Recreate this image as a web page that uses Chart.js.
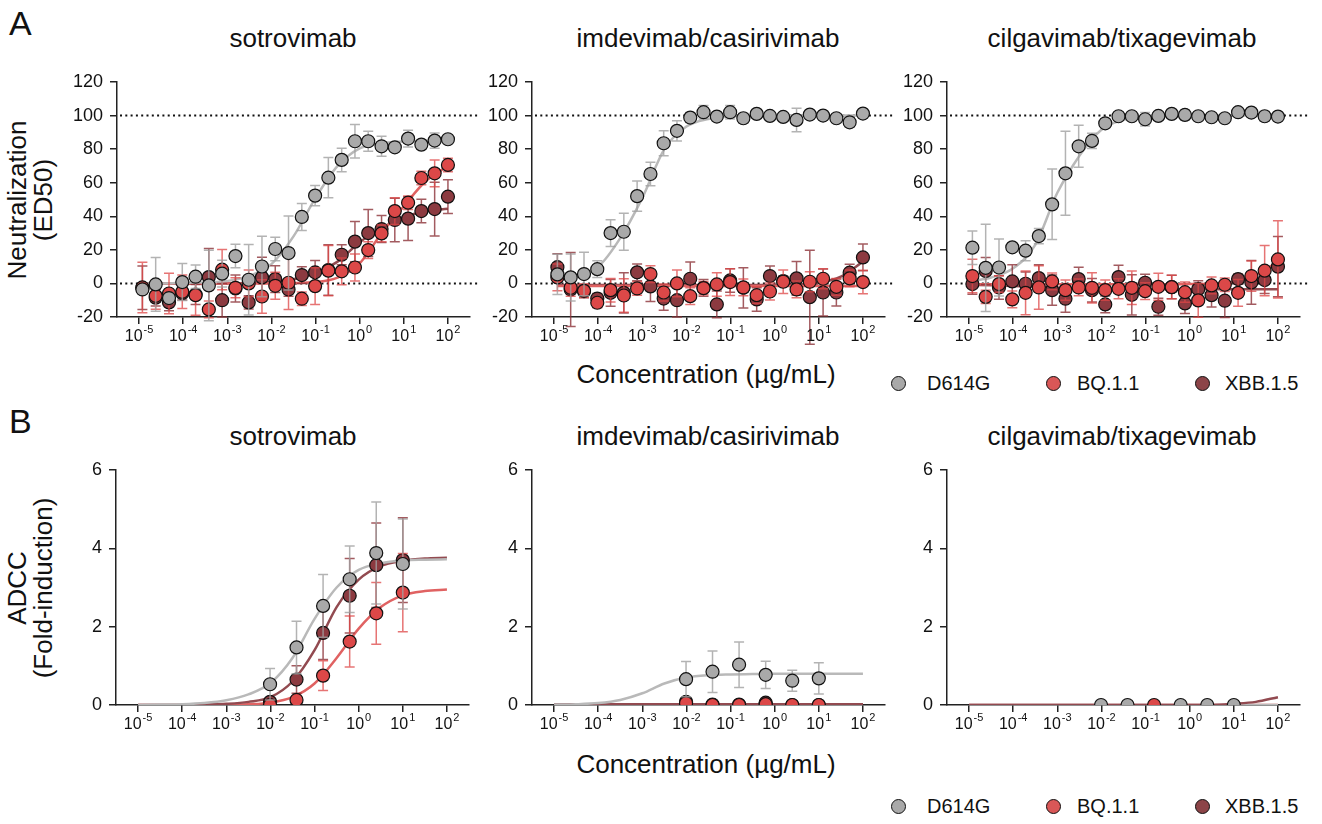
<!DOCTYPE html>
<html>
<head>
<meta charset="utf-8">
<script src="https://cdn.jsdelivr.net/npm/chart.js@4.4.1/dist/chart.umd.min.js"></script>
<style>
  body { margin: 0; background: #fff; width: 1322px; height: 824px; position: relative; overflow: hidden;
         font-family: 'Liberation Sans', Arial, Helvetica, sans-serif; color: #111; }
  canvas { position: absolute; }
  .txt { position: absolute; white-space: nowrap; line-height: 1; }
  .ctr { transform: translateX(-50%); }
  .ytitle { position: absolute; white-space: nowrap; text-align: center; font-size: 26px; line-height: 26px;
            transform: translate(-50%, -50%) rotate(-90deg); }
  .dot { position: absolute; width: 15px; height: 15px; border-radius: 50%; border: 1.5px solid #111; box-sizing: border-box; }
  .leg { position: absolute; font-size: 20px; line-height: 1; white-space: nowrap; }
</style>
</head>
<body>

<div class="txt" style="left:9px;top:6px;font-size:34px;">A</div>
<div class="txt" style="left:9px;top:404px;font-size:34px;">B</div>

<div class="txt ctr" style="left:293px;top:25px;font-size:26px;">sotrovimab</div>
<div class="txt ctr" style="left:708px;top:25px;font-size:26px;">imdevimab/casirivimab</div>
<div class="txt ctr" style="left:1122px;top:25px;font-size:26px;">cilgavimab/tixagevimab</div>
<div class="txt ctr" style="left:293px;top:423px;font-size:26px;">sotrovimab</div>
<div class="txt ctr" style="left:708px;top:423px;font-size:26px;">imdevimab/casirivimab</div>
<div class="txt ctr" style="left:1122px;top:423px;font-size:26px;">cilgavimab/tixagevimab</div>

<div class="ytitle" style="left:30px;top:200px;">Neutralization<br>(ED50)</div>
<div class="ytitle" style="left:30px;top:588px;">ADCC<br>(Fold-induction)</div>

<div class="txt ctr" style="left:706px;top:361px;font-size:26px;">Concentration (µg/mL)</div>
<div class="txt ctr" style="left:706px;top:751px;font-size:26px;">Concentration (µg/mL)</div>

<div id="legendA"></div>
<div id="legendB"></div>

<canvas id="a1"></canvas>
<canvas id="a2"></canvas>
<canvas id="a3"></canvas>
<canvas id="b1"></canvas>
<canvas id="b2"></canvas>
<canvas id="b3"></canvas>

<script>
// --- données ---

// concentrations (µg/mL), dilution 1:2 pour la neutralisation, 1:4 pour l'ADCC
const concA = [1.19e-5, 2.38e-5, 4.77e-5, 9.54e-5, 1.91e-4, 3.81e-4, 7.63e-4, 1.53e-3, 3.05e-3, 6.10e-3, 1.22e-2, 2.44e-2,
               4.88e-2, 9.77e-2, 0.195, 0.391, 0.781, 1.56, 3.13, 6.25, 12.5, 25, 50, 100];
const concB = [0.0098, 0.039, 0.156, 0.625, 2.5, 10];
const concB3Gray = [0.0098, 0.039, 0.625, 2.5, 10];
const concB3Red = [0.156];

// abscisses des courbes d'ajustement
const fitXA = [1.2e-5, 3.16e-5, 1e-4, 3.16e-4, 1e-3, 3.16e-3, 1e-2, 3.16e-2, 0.1, 0.316, 1, 3.16, 10, 31.6, 100];
const fitXB = [1e-5, 3.16e-5, 1e-4, 3.16e-4, 1e-3, 3.16e-3, 1e-2, 3.16e-2, 0.1, 0.316, 1, 3.16, 10, 31.6, 100];

// graduations de l'axe x (exposants de 10)
const xTickExps = [-5, -4, -3, -2, -1, 0, 1, 2];
const variants = ['D614G', 'BQ.1.1', 'XBB.1.5'];

// A - sotrovimab
const a1Gray = [-3.6, -0.6, -8.7, 0.8, 4, -1.2, 5.8, 16.3, 2.2, 10.1, 20.5, 18.1, 39.6, 52.3, 63, 73.6, 84.7, 84.7, 81.7, 81.1, 86.3, 82.7, 85.1, 85.9];
const a1GrayErr = [0, 16, 3, 11, 7, 21, 8, 7, 21, 18, 7, 22, 8, 6, 12, 7, 10, 6, 6, 2, 5, 2, 4.5, 1];
const a1Red = [-2.4, -7.4, -6, -5, -7, -15.5, 8.2, -2.6, 0, -7.8, -1.4, 0.4, -9.1, -1.6, 7.6, 7.2, 9.5, 19.9, 29.8, 43.1, 48.1, 62.8, 65.6, 70.6];
const a1RedErr = [15, 8, 12, 10, 12, 5, 12, 6, 8, 10, 8, 16, 4, 11, 15, 8, 8, 5, 5, 8, 4, 4, 8, 4];
const a1Dark = [-2.6, -8.5, -11.3, -5.8, -6.6, 3.8, -10, -3, -11.3, 3.6, 2.6, -3.6, 5, 6.6, 8, 17.1, 24.9, 30, 32.4, 37.8, 38.6, 43.1, 44.3, 51.7];
const a1DarkErr = [13, 5, 5, 4, 6, 17, 10, 8, 4, 12, 8, 4, 5, 7, 15, 6, 12, 14, 8, 13, 13, 7, 16, 10];
const a1FitGray = [0, 0, 0.3, 0.7, 1.5, 4.5, 11.5, 28, 51, 70, 80.5, 83.5, 84.5, 85, 85];
const a1FitRed = [0, 0, 0, 0, 0, 0, 0, 0.2, 0.8, 3.5, 12, 30, 46, 61, 70];
const a1FitDark = [0, 0, 0, 0, 0.1, 0.3, 0.8, 2.5, 6, 13, 24.5, 33, 39.5, 43, 44.5];

// A - imdevimab/casirivimab
const a2Gray = [5.4, 3.6, 5.6, 8.5, 30, 30.8, 52, 65.2, 83.5, 90.9, 98.8, 102, 99.4, 102, 98.4, 101, 99.8, 99.2, 97.4, 100.6, 100, 98.4, 96, 101.2];
const a2GrayErr = [12, 14, 13, 5, 8, 11, 9, 7, 7.5, 6, 3, 4, 1, 4, 3, 1, 1, 2, 7, 2, 1, 2, 3, 1];
const a2Red = [3.6, -2.6, -4.4, -11.5, -4, -7.2, -3, 5.6, -5.4, 0, -7.6, -2.8, -0.6, 0.8, -2.4, -7, -4.8, 1, -3.6, 1, 2.8, -2, 3, 0.8];
const a2RedErr = [8, 5, 4, 3, 7, 10, 4, 5, 5, 8, 5, 4, 7, 8, 5, 5, 5, 7, 5, 6, 6, 5, 5, 7];
const a2Dark = [9.7, -3.6, -4.6, -9, -5.6, -5.6, 6.6, -1.8, -9, -10, 2.8, -2.6, -12.5, 1.8, -2.6, -9.5, 4.4, 1.4, 3, -8.2, -5.4, -5.4, 6.4, 15.5];
const a2DarkErr = [8, 22, 4, 3, 8, 12, 5, 9, 7, 10, 10, 5, 8, 7, 12, 7, 6, 3, 10, 28, 14, 8, 5, 8];
const a2FitGray = [3, 5, 10, 27, 51, 80, 93.5, 98, 99.5, 100, 100, 100, 100, 100, 100];
const a2FitRed = [-1.5, -1.5, -1.5, -1.5, -1.5, -1.5, -1.5, -1.5, -1.5, -1.5, -1.5, -1.5, -1.5, -1.5, -1.5];
const a2FitDark = [-1, -1, -1, -1, -1, -1, -1, -1, -1, -1, -0.9, -0.6, 0.3, 4, 13];

// A - cilgavimab/tixagevimab
const a3Gray = [21.3, 9.3, 9.5, 21.5, 19.5, 28.2, 47.1, 65.6, 81.7, 84.9, 95.4, 99.6, 99.6, 97.8, 99.8, 101, 100.4, 99.6, 99, 98.4, 102, 101.8, 99.6, 99.4];
const a3GrayErr = [10, 26, 17, 2, 6, 4.5, 21, 25, 12.5, 4.5, 2, 1, 1, 4, 1, 1, 3, 1, 1, 1, 1, 1, 3, 1];
const a3Red = [4.4, -8, -0.4, -9.5, -5.6, -2.4, 1.2, -4, -2.4, -2.6, -4, -3.2, -2.6, -4.6, -2, -2.2, -5.2, -10.1, -1.2, -0.8, -5.6, 4.4, 7.6, 14.3];
const a3RedErr = [10, 4, 5, 5, 13, 13, 5, 6, 5, 9, 6, 6, 10, 5, 8, 7, 6, 10, 5, 4, 8, 9, 15, 23];
const a3Dark = [-0.4, 7.4, -2.4, 1.2, -0.2, 3.2, -4, -9.1, 2.6, -4, -12.5, 3.8, -6.8, 0.4, -13.9, -2.2, -11.9, -3.4, -7, -10.3, 2.6, 0.6, 2, 10];
const a3DarkErr = [6, 8, 7, 10, 7, 8, 9, 8, 7, 7, 5, 7, 12, 5, 5, 7, 6, 5, 7, 10, 3, 13, 8, 18];
const a3FitGray = [1.5, 3.5, 9, 23, 54, 76, 91.5, 97.5, 99.5, 100, 100, 100, 100, 100, 100];
const a3FitRed = [-0.5, -0.5, -0.5, -0.5, -0.5, -0.5, -0.5, -0.5, -0.5, -0.5, -0.4, -0.2, 1, 5, 13];
const a3FitDark = [-0.8, -1.1, -1.5, -2, -2.5, -2.9, -3.2, -3.3, -3.4, -3.5, -3.5, -3.5, -3.5, -3.5, -3.5];

// B - sotrovimab
const b1Gray = [0.53, 1.47, 2.53, 3.21, 3.88, 3.6];
const b1GrayErr = [0.4, 0.67, 0.8, 0.85, 1.3, 1.15];
const b1Red = [0.0, 0.13, 0.75, 1.62, 2.34, 2.87];
const b1RedErr = [0, 0, 0.38, 0.65, 0.79, 1.0];
const b1Dark = [0.08, 0.65, 1.84, 2.79, 3.57, 3.7];
const b1DarkErr = [0, 0.35, 0.68, 0.95, 1.08, 1.08];
const b1FitGray = [0, 0.01, 0.02, 0.05, 0.12, 0.27, 0.56, 1.2, 2.2, 3.0, 3.45, 3.62, 3.69, 3.71, 3.72];
const b1FitRed = [0, 0, 0, 0, 0.01, 0.02, 0.06, 0.2, 0.55, 1.2, 1.95, 2.5, 2.8, 2.91, 2.95];
const b1FitDark = [0, 0, 0, 0.01, 0.03, 0.08, 0.2, 0.6, 1.4, 2.5, 3.2, 3.55, 3.68, 3.74, 3.76];

// B - imdevimab/casirivimab
const b2Gray = [0.66, 0.85, 1.03, 0.77, 0.62, 0.68];
const b2GrayErr = [0.45, 0.53, 0.58, 0.35, 0.27, 0.4];
const b2Red = [0.05, 0.0, 0.0, 0.02, 0.0, 0.0];
const b2Dark = [0.08, 0.01, 0.01, 0.06, 0.0, 0.0];
const b2FitGray = [0.01, 0.02, 0.05, 0.13, 0.3, 0.55, 0.7, 0.76, 0.78, 0.79, 0.8, 0.8, 0.8, 0.8, 0.8];
const b2FitRed = [0.02, 0.02, 0.02, 0.02, 0.02, 0.02, 0.02, 0.02, 0.02, 0.02, 0.02, 0.02, 0.02, 0.02, 0.02];
const b2FitDark = [0.02, 0.02, 0.02, 0.02, 0.02, 0.02, 0.02, 0.02, 0.02, 0.02, 0.02, 0.02, 0.02, 0.02, 0.02];

// B - cilgavimab/tixagevimab
const b3Gray = [0, 0, 0, 0, 0];
const b3Red = [0];
const b3FitGray = [0, 0, 0, 0, 0, 0, 0, 0, 0, 0, 0, 0, 0, 0, 0];
const b3FitRed = [0, 0, 0, 0, 0, 0, 0, 0, 0, 0, 0, 0, 0, 0, 0];
const b3FitDark = [0, 0, 0, 0, 0, 0, 0, 0, 0, 0, 0, 0, 0.03, 0.08, 0.2];

// --- styles ---
const FONT = "'Liberation Sans', Arial, Helvetica, sans-serif";
const PAD_TOP = 24;
const styles = {
    'D614G':   { fill: '#a9a9a9', line: '#b9b9b9', err: 'rgba(160,160,160,0.8)', order: 1 },
    'BQ.1.1':  { fill: '#dc4848', line: '#e06262', err: 'rgba(222,70,70,0.75)', order: 2 },
    'XBB.1.5': { fill: '#8c3a40', line: '#924a50', err: 'rgba(140,50,56,0.8)', order: 3 }
};
const legendFill = { 'D614G': '#a9a9a9', 'BQ.1.1': '#d95757', 'XBB.1.5': '#8c4448' };

// barres d'erreur dessinées juste avant les points de chaque série
const errorBarPlugin = {
    id: 'errorBars',
    beforeDatasetDraw(chart, args) {
        const ds = chart.data.datasets[args.index];
        if (!ds.err) return;
        const ctx = chart.ctx;
        const y = chart.scales.y;
        ctx.save();
        ctx.strokeStyle = ds.errColor;
        ctx.lineWidth = 1.5;
        args.meta.data.forEach((pt, i) => {
            const e = ds.err[i];
            if (!e) return;
            const v = ds.data[i].y;
            const top = y.getPixelForValue(v + e);
            const bot = y.getPixelForValue(v - e);
            ctx.beginPath();
            ctx.moveTo(pt.x, top); ctx.lineTo(pt.x, bot);
            ctx.moveTo(pt.x - 5, top); ctx.lineTo(pt.x + 5, top);
            ctx.moveTo(pt.x - 5, bot); ctx.lineTo(pt.x + 5, bot);
            ctx.stroke();
        });
        ctx.restore();
    }
};

// lignes pointillées de référence (0 et 100 %)
const refLinePlugin = {
    id: 'refLines',
    beforeDatasetsDraw(chart, args, opts) {
        if (!opts.values) return;
        const { ctx, chartArea: a, scales: { y } } = chart;
        ctx.save();
        ctx.setLineDash([2, 3.3]);
        ctx.lineWidth = 2;
        ctx.strokeStyle = '#111';
        opts.values.forEach(v => {
            const py = y.getPixelForValue(v);
            ctx.beginPath();
            ctx.moveTo(a.left + 3, py);
            ctx.lineTo(a.right + 9, py);
            ctx.stroke();
        });
        ctx.restore();
    }
};

// étiquettes 10^n avec exposant
const powerTicksPlugin = {
    id: 'powerTicks',
    afterDraw(chart) {
        const { ctx, chartArea: a, scales: { x } } = chart;
        ctx.save();
        ctx.fillStyle = '#111';
        ctx.textBaseline = 'alphabetic';
        xTickExps.forEach(e => {
            const px = x.getPixelForValue(Math.pow(10, e));
            const expTxt = String(e);
            ctx.font = '16px ' + FONT;
            const wb = ctx.measureText('10').width;
            ctx.font = '11px ' + FONT;
            const we = ctx.measureText(expTxt).width;
            const left = px - (wb + we + 1) / 2;
            ctx.font = '16px ' + FONT;
            ctx.fillText('10', left, a.bottom + 24);
            ctx.font = '11px ' + FONT;
            ctx.fillText(expTxt, left + wb + 1, a.bottom + 16);
        });
        ctx.restore();
    }
};

function points(xs, ys) {
    return xs.map((x, i) => ({ x: x, y: ys[i] }));
}

function makePanel(id, box, yOpts, refValues, series, curves) {
    const canvas = document.getElementById(id);
    const w = box.right - box.ax + 74;
    const h = box.bottom - box.top + PAD_TOP + 42;
    canvas.width = w;
    canvas.height = h;
    canvas.style.left = (box.ax - 60) + 'px';
    canvas.style.top = (box.top - PAD_TOP) + 'px';
    canvas.style.width = w + 'px';
    canvas.style.height = h + 'px';

    const datasets = [];
    curves.forEach(c => {
        datasets.push({
            label: c.name + ' fit',
            data: points(c.x, c.y),
            showLine: true,
            borderColor: styles[c.name].line,
            borderWidth: 2.5,
            pointRadius: 0,
            cubicInterpolationMode: 'monotone',
            fill: false,
            order: 10
        });
    });
    series.forEach(s => {
        datasets.push({
            label: s.name,
            data: points(s.x, s.y),
            err: s.err,
            errColor: styles[s.name].err,
            backgroundColor: styles[s.name].fill,
            borderColor: '#111',
            borderWidth: 1.2,
            pointRadius: 6.5,
            showLine: false,
            order: styles[s.name].order
        });
    });

    return new Chart(canvas, {
        type: 'scatter',
        data: { datasets: datasets },
        options: {
            responsive: false,
            animation: false,
            devicePixelRatio: 1,
            layout: { padding: { top: PAD_TOP, right: 14, left: 0, bottom: 0 } },
            plugins: {
                legend: { display: false },
                tooltip: { enabled: false },
                refLines: { values: refValues }
            },
            scales: {
                x: {
                    type: 'logarithmic',
                    min: Math.pow(10, -5.5),
                    max: Math.pow(10, 2.5),
                    ticks: { display: false },
                    grid: { drawOnChartArea: false, drawTicks: true, tickLength: 7, color: '#222', lineWidth: 1.5 },
                    border: { color: '#222', width: 1.5 },
                    afterBuildTicks: s => { s.ticks = xTickExps.map(e => ({ value: Math.pow(10, e) })); },
                    afterFit: s => { s.height = 42; }
                },
                y: {
                    min: yOpts.min,
                    max: yOpts.max,
                    ticks: { stepSize: yOpts.step, color: '#111', padding: 7, font: { size: 18, family: FONT } },
                    grid: { drawOnChartArea: false, drawTicks: true, tickLength: 7, color: '#222', lineWidth: 1.5 },
                    border: { color: '#222', width: 1.5 },
                    afterFit: s => { s.width = 60; }
                }
            }
        },
        plugins: [errorBarPlugin, refLinePlugin, powerTicksPlugin]
    });
}

function makeLegend(id, centerY) {
    const el = document.getElementById(id);
    const dotX = [898, 1053, 1202];
    const textX = [927, 1077, 1225];
    variants.forEach((v, i) => {
        const d = document.createElement('div');
        d.className = 'dot';
        d.style.left = (dotX[i] - 7.5) + 'px';
        d.style.top = (centerY - 7.5) + 'px';
        d.style.background = legendFill[v];
        el.appendChild(d);
        const t = document.createElement('div');
        t.className = 'leg';
        t.style.left = textX[i] + 'px';
        t.style.top = (centerY - 10) + 'px';
        t.textContent = v;
        el.appendChild(t);
    });
}

const yNeut = { min: -20, max: 120, step: 20 };
const yAdcc = { min: 0, max: 6, step: 2 };

makePanel('a1', { ax: 117, right: 470, top: 82, bottom: 317 }, yNeut, [0, 100], [
    { name: 'XBB.1.5', x: concA, y: a1Dark, err: a1DarkErr },
    { name: 'BQ.1.1', x: concA, y: a1Red, err: a1RedErr },
    { name: 'D614G', x: concA, y: a1Gray, err: a1GrayErr }
], [
    { name: 'D614G', x: fitXA, y: a1FitGray },
    { name: 'BQ.1.1', x: fitXA, y: a1FitRed },
    { name: 'XBB.1.5', x: fitXA, y: a1FitDark }
]);

makePanel('a2', { ax: 532, right: 885, top: 82, bottom: 317 }, yNeut, [0, 100], [
    { name: 'XBB.1.5', x: concA, y: a2Dark, err: a2DarkErr },
    { name: 'BQ.1.1', x: concA, y: a2Red, err: a2RedErr },
    { name: 'D614G', x: concA, y: a2Gray, err: a2GrayErr }
], [
    { name: 'D614G', x: fitXA, y: a2FitGray },
    { name: 'BQ.1.1', x: fitXA, y: a2FitRed },
    { name: 'XBB.1.5', x: fitXA, y: a2FitDark }
]);

makePanel('a3', { ax: 947, right: 1300, top: 82, bottom: 317 }, yNeut, [0, 100], [
    { name: 'XBB.1.5', x: concA, y: a3Dark, err: a3DarkErr },
    { name: 'BQ.1.1', x: concA, y: a3Red, err: a3RedErr },
    { name: 'D614G', x: concA, y: a3Gray, err: a3GrayErr }
], [
    { name: 'D614G', x: fitXA, y: a3FitGray },
    { name: 'BQ.1.1', x: fitXA, y: a3FitRed },
    { name: 'XBB.1.5', x: fitXA, y: a3FitDark }
]);

makePanel('b1', { ax: 116, right: 469, top: 470, bottom: 705 }, yAdcc, null, [
    { name: 'XBB.1.5', x: concB, y: b1Dark, err: b1DarkErr },
    { name: 'BQ.1.1', x: concB, y: b1Red, err: b1RedErr },
    { name: 'D614G', x: concB, y: b1Gray, err: b1GrayErr }
], [
    { name: 'D614G', x: fitXB, y: b1FitGray },
    { name: 'XBB.1.5', x: fitXB, y: b1FitDark },
    { name: 'BQ.1.1', x: fitXB, y: b1FitRed }
]);

makePanel('b2', { ax: 532, right: 885, top: 470, bottom: 705 }, yAdcc, null, [
    { name: 'XBB.1.5', x: concB, y: b2Dark },
    { name: 'BQ.1.1', x: concB, y: b2Red },
    { name: 'D614G', x: concB, y: b2Gray, err: b2GrayErr }
], [
    { name: 'D614G', x: fitXB, y: b2FitGray },
    { name: 'XBB.1.5', x: fitXB, y: b2FitDark },
    { name: 'BQ.1.1', x: fitXB, y: b2FitRed }
]);

makePanel('b3', { ax: 947, right: 1300, top: 470, bottom: 705 }, yAdcc, null, [
    { name: 'D614G', x: concB3Gray, y: b3Gray },
    { name: 'BQ.1.1', x: concB3Red, y: b3Red }
], [
    { name: 'XBB.1.5', x: fitXB, y: b3FitDark },
    { name: 'D614G', x: fitXB, y: b3FitGray },
    { name: 'BQ.1.1', x: fitXB, y: b3FitRed }
]);

makeLegend('legendA', 383);
makeLegend('legendB', 806);
</script>
</body>
</html>
